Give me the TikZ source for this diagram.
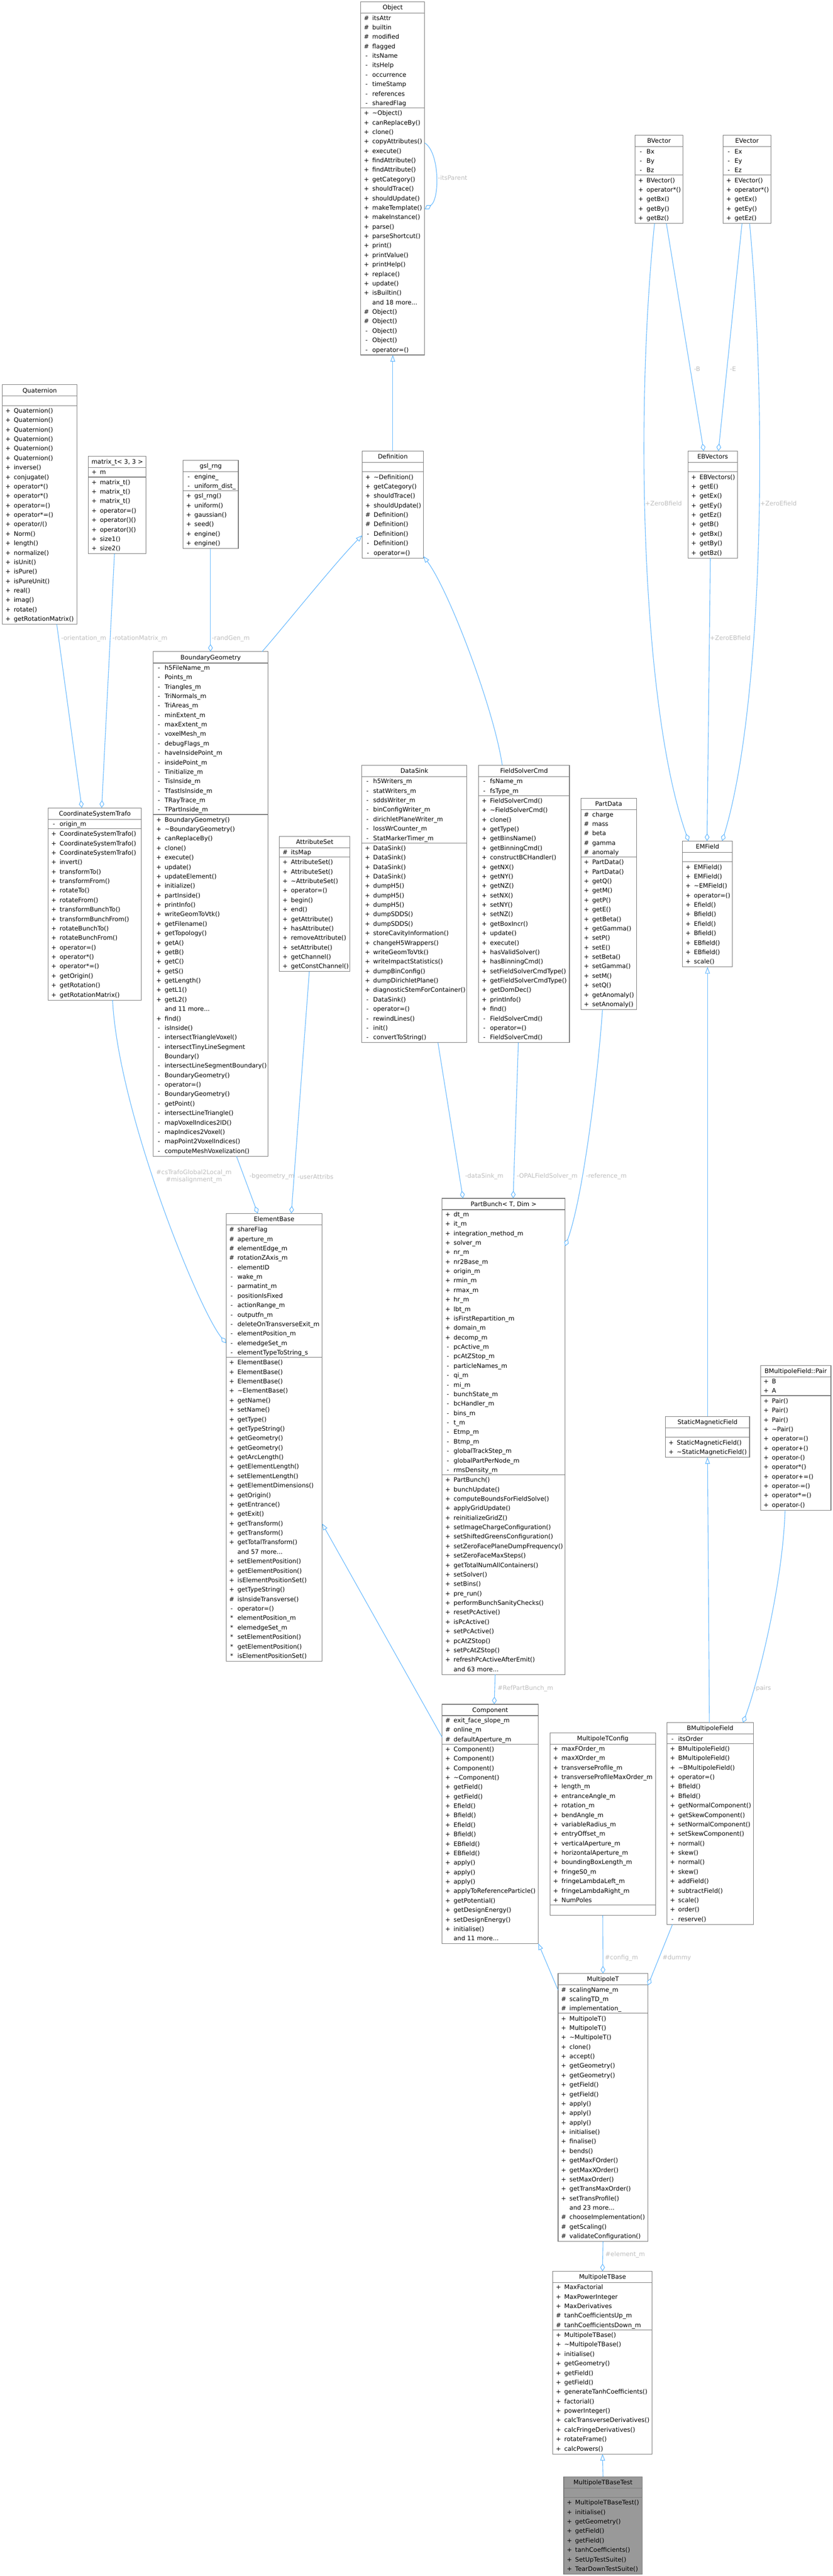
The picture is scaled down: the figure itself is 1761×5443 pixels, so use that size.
\documentclass[tikz,border=0pt]{standalone}
\usepackage{fontspec}
\setmainfont{DejaVu Sans}
\usetikzlibrary{arrows.meta,calc}
\definecolor{edgeblue}{HTML}{63B8FF}
\definecolor{boxgray}{HTML}{7A7A7A}
\definecolor{lblgray}{HTML}{BEBEBE}
\definecolor{mainfill}{HTML}{999999}
\newcommand\clsfont{\fontsize{13}{15}\selectfont}
\newcommand\tdots{...}
\newcount\clsnA
\newcount\clsnM
\tikzset{
  clsnode/.style={draw=boxgray, line width=1.2pt, inner sep=0pt, outer sep=0pt, rectangle},
  clsline/.style={draw=boxgray, line width=1.2pt},
  clssym/.style={anchor=base, inner sep=0pt, font=\clsfont},
  clstxt/.style={anchor=base west, inner sep=0pt, font=\clsfont},
  clstitle/.style={anchor=base, inner sep=0pt, font=\clsfont},
  lbl/.style={text=lblgray, font=\clsfont, inner sep=0pt, align=center},
  inh/.style={draw=edgeblue, line width=1.2pt, -{Triangle[length=14pt,width=10pt,fill=white]}},
  agg/.style={draw=edgeblue, line width=1.2pt, -{Diamond[length=16pt,width=10pt,fill=white]}},
}
\makeatletter
\newcommand\clsbox[8][white]{%
  \def\cls@A{#7}\def\cls@M{#8}%
  \global\clsnA=0 \global\clsnM=0
  \ifx\cls@A\@empty\else\foreach \csym/\ctxt in {#7}{\global\advance\clsnA by 1\relax}\fi
  \ifx\cls@M\@empty\else\foreach \csym/\ctxt in {#8}{\global\advance\clsnM by 1\relax}\fi
  \ifnum\clsnA<1 \global\clsnA=1 \fi
  \ifnum\clsnM<1 \global\clsnM=1 \fi
  \edef\clsRA{\the\clsnA}%
  \pgfmathsetmacro\clsH{26+20*(\the\clsnA+\the\clsnM)}%
  \node[clsnode, fill=#1, minimum width=#5, minimum height=\clsH, anchor=north west] (#2) at (#3,#4) {};
  \draw[clsline] ($(#2.north west)+(0,24)$) -- ($(#2.north east)+(0,24)$);
  \draw[clsline] ($(#2.north west)+(0,{24+20*\clsRA})$) -- ($(#2.north east)+(0,{24+20*\clsRA})$);
  \node[clstitle] at ($(#2.north)+(0,16.5)$) {#6};
  \ifx\cls@A\@empty\else
  \foreach \csym/\ctxt [count=\ci] in {#7}{
    \node[clssym] at ($(#2.north west)+(12,{18.5+20*\ci})$) {\csym};
    \node[clstxt] at ($(#2.north west)+(24,{18.5+20*\ci})$) {\ctxt};
  }\fi
  \ifx\cls@M\@empty\else
  \foreach \csym/\ctxt [count=\ci] in {#8}{
    \node[clssym] at ($(#2.north west)+(12,{19.5+20*\clsRA+20*\ci})$) {\csym};
    \node[clstxt] at ($(#2.north west)+(24,{19.5+20*\clsRA+20*\ci})$) {\ctxt};
  }\fi
}
\makeatother
\begin{document}
\begin{tikzpicture}[x=1pt,y=-1pt]
\useasboundingbox (0,0) rectangle (1761,5443);
\fill[white] (0,0) rectangle (1761,5443);

% ---------- rank 0
\clsbox{Object}{763}{4}{135}{Object}{\#/itsAttr, \#/builtin, \#/modified, \#/flagged, -/itsName, -/itsHelp, -/occurrence, -/timeStamp, -/references, -/sharedFlag}{+/\textasciitilde Object(), +/canReplaceBy(), +/clone(), +/copyAttributes(), +/execute(), +/findAttribute(), +/findAttribute(), +/getCategory(), +/shouldTrace(), +/shouldUpdate(), +/makeTemplate(), +/makeInstance(), +/parse(), +/parseShortcut(), +/print(), +/printValue(), +/printHelp(), +/replace(), +/update(), +/isBuiltin(), /{and 18 more\tdots}, \#/Object(), \#/Object(), -/Object(), -/Object(), -/operator=()}
\clsbox{BVector}{1343}{286}{101}{BVector}{-/Bx, -/By, -/Bz}{+/BVector(), +/operator*(), +/getBx(), +/getBy(), +/getBz()}
\clsbox{EVector}{1529}{286}{101}{EVector}{-/Ex, -/Ey, -/Ez}{+/EVector(), +/operator*(), +/getEx(), +/getEy(), +/getEz()}

% ---------- rank 1
\clsbox{Quaternion}{5}{813}{158}{Quaternion}{}{+/Quaternion(), +/Quaternion(), +/Quaternion(), +/Quaternion(), +/Quaternion(), +/Quaternion(), +/inverse(), +/conjugate(), +/operator*(), +/operator*(), +/operator=(), +/operator*=(), +/{operator/()}, +/Norm(), +/length(), +/normalize(), +/isUnit(), +/isPure(), +/isPureUnit(), +/real(), +/imag(), +/rotate(), +/getRotationMatrix()}
\clsbox{matrix}{187}{964}{122}{matrix\_t< 3, 3 >}{+/m}{+/matrix\_t(), +/matrix\_t(), +/matrix\_t(), +/operator=(), +/operator()(), +/operator()(), +/size1(), +/size2()}
\clsbox{gsl}{387}{973}{117}{gsl\_rng}{-/engine\_, -/uniform\_dist\_}{+/gsl\_rng(), +/uniform(), +/gaussian(), +/seed(), +/engine(), +/engine()}
\clsbox{Definition}{766}{953}{129}{Definition}{}{+/\textasciitilde Definition(), +/getCategory(), +/shouldTrace(), +/shouldUpdate(), \#/Definition(), \#/Definition(), -/Definition(), -/Definition(), -/operator=()}
\clsbox{EBVectors}{1455}{953}{104}{EBVectors}{}{+/EBVectors(), +/getE(), +/getEx(), +/getEy(), +/getEz(), +/getB(), +/getBx(), +/getBy(), +/getBz()}

% ---------- rank 2
\clsbox{CST}{102}{1707}{197}{CoordinateSystemTrafo}{-/origin\_m}{+/CoordinateSystemTrafo(), +/CoordinateSystemTrafo(), +/CoordinateSystemTrafo(), +/invert(), +/transformTo(), +/transformFrom(), +/rotateTo(), +/rotateFrom(), +/transformBunchTo(), +/transformBunchFrom(), +/rotateBunchTo(), +/rotateBunchFrom(), +/operator=(), +/operator*(), +/operator*=(), +/getOrigin(), +/getRotation(), +/getRotationMatrix()}
\clsbox{BG}{324}{1377}{243}{BoundaryGeometry}{-/h5FileName\_m, -/Points\_m, -/Triangles\_m, -/TriNormals\_m, -/TriAreas\_m, -/minExtent\_m, -/maxExtent\_m, -/voxelMesh\_m, -/debugFlags\_m, -/haveInsidePoint\_m, -/insidePoint\_m, -/Tinitialize\_m, -/TisInside\_m, -/TfastIsInside\_m, -/TRayTrace\_m, -/TPartInside\_m}{+/BoundaryGeometry(), +/\textasciitilde BoundaryGeometry(), +/canReplaceBy(), +/clone(), +/execute(), +/update(), +/updateElement(), +/initialize(), +/partInside(), +/printInfo(), +/writeGeomToVtk(), +/getFilename(), +/getTopology(), +/getA(), +/getB(), +/getC(), +/getS(), +/getLength(), +/getL1(), +/getL2(), /{and 11 more\tdots}, +/find(), -/isInside(), -/intersectTriangleVoxel(), -/intersectTinyLineSegment, /Boundary(), -/intersectLineSegmentBoundary(), -/BoundaryGeometry(), -/operator=(), -/BoundaryGeometry(), -/getPoint(), -/intersectLineTriangle(), -/mapVoxelIndices2ID(), -/mapIndices2Voxel(), -/mapPoint2VoxelIndices(), -/computeMeshVoxelization()}
\clsbox{AttributeSet}{591}{1767}{149}{AttributeSet}{\#/itsMap}{+/AttributeSet(), +/AttributeSet(), +/\textasciitilde AttributeSet(), +/operator=(), +/begin(), +/end(), +/getAttribute(), +/hasAttribute(), +/removeAttribute(), +/setAttribute(), +/getChannel(), +/getConstChannel()}
\clsbox{DataSink}{765}{1617}{222}{DataSink}{-/h5Writers\_m, -/statWriters\_m, -/sddsWriter\_m, -/binConfigWriter\_m, -/dirichletPlaneWriter\_m, -/lossWrCounter\_m, -/StatMarkerTimer\_m}{+/DataSink(), +/DataSink(), +/DataSink(), +/DataSink(), +/dumpH5(), +/dumpH5(), +/dumpH5(), +/dumpSDDS(), +/dumpSDDS(), +/storeCavityInformation(), +/changeH5Wrappers(), +/writeGeomToVtk(), +/writeImpactStatistics(), +/dumpBinConfig(), +/dumpDirichletPlane(), +/diagnosticStemForContainer(), -/DataSink(), -/operator=(), -/rewindLines(), -/init(), -/convertToString()}
\clsbox{FSC}{1012}{1617}{192}{FieldSolverCmd}{-/fsName\_m, -/fsType\_m}{+/FieldSolverCmd(), +/\textasciitilde FieldSolverCmd(), +/clone(), +/getType(), +/getBinsName(), +/getBinningCmd(), +/constructBCHandler(), +/getNX(), +/getNY(), +/getNZ(), +/setNX(), +/setNY(), +/setNZ(), +/getBoxIncr(), +/update(), +/execute(), +/hasValidSolver(), +/hasBinningCmd(), +/setFieldSolverCmdType(), +/getFieldSolverCmdType(), +/getDomDec(), +/printInfo(), +/find(), -/FieldSolverCmd(), -/operator=(), -/FieldSolverCmd()}
\clsbox{PartData}{1228}{1687}{118}{PartData}{\#/charge, \#/mass, \#/beta, \#/gamma, \#/anomaly}{+/PartData(), +/PartData(), +/getQ(), +/getM(), +/getP(), +/getE(), +/getBeta(), +/getGamma(), +/setP(), +/setE(), +/setBeta(), +/setGamma(), +/setM(), +/setQ(), +/getAnomaly(), +/setAnomaly()}
\clsbox{EMField}{1443}{1777}{106}{EMField}{}{+/EMField(), +/EMField(), +/\textasciitilde EMField(), +/operator=(), +/Efield(), +/Bfield(), +/Efield(), +/Bfield(), +/EBfield(), +/EBfield(), +/scale()}

% ---------- rank 3
\clsbox{ElementBase}{478}{2564}{203}{ElementBase}{\#/shareFlag, \#/aperture\_m, \#/elementEdge\_m, \#/rotationZAxis\_m, -/elementID, -/wake\_m, -/parmatint\_m, -/positionIsFixed, -/actionRange\_m, -/outputfn\_m, -/deleteOnTransverseExit\_m, -/elementPosition\_m, -/elemedgeSet\_m, -/elementTypeToString\_s}{+/ElementBase(), +/ElementBase(), +/ElementBase(), +/\textasciitilde ElementBase(), +/getName(), +/setName(), +/getType(), +/getTypeString(), +/getGeometry(), +/getGeometry(), +/getArcLength(), +/getElementLength(), +/setElementLength(), +/getElementDimensions(), +/getOrigin(), +/getEntrance(), +/getExit(), +/getTransform(), +/getTransform(), +/getTotalTransform(), /{and 57 more\tdots}, +/setElementPosition(), +/getElementPosition(), +/isElementPositionSet(), +/getTypeString(), \#/isInsideTransverse(), -/operator=(), */elementPosition\_m, */elemedgeSet\_m, */setElementPosition(), */getElementPosition(), */isElementPositionSet()}
\clsbox{PartBunch}{935}{2532}{260}{PartBunch< T, Dim >}{+/dt\_m, +/it\_m, +/integration\_method\_m, +/solver\_m, +/nr\_m, +/nr2Base\_m, +/origin\_m, +/rmin\_m, +/rmax\_m, +/hr\_m, +/lbt\_m, +/isFirstRepartition\_m, +/domain\_m, +/decomp\_m, -/pcActive\_m, -/pcAtZStop\_m, -/particleNames\_m, -/qi\_m, -/mi\_m, -/bunchState\_m, -/bcHandler\_m, -/bins\_m, -/t\_m, -/Etmp\_m, -/Btmp\_m, -/globalTrackStep\_m, -/globalPartPerNode\_m, -/rmsDensity\_m}{+/PartBunch(), +/bunchUpdate(), +/computeBoundsForFieldSolve(), +/applyGridUpdate(), +/reinitializeGridZ(), +/setImageChargeConfiguration(), +/setShiftedGreensConfiguration(), +/setZeroFacePlaneDumpFrequency(), +/setZeroFaceMaxSteps(), +/getTotalNumAllContainers(), +/setSolver(), +/setBins(), +/pre\_run(), +/performBunchSanityChecks(), +/resetPcActive(), +/isPcActive(), +/setPcActive(), +/pcAtZStop(), +/setPcAtZStop(), +/refreshPcActiveAfterEmit(), /{and 63 more\tdots}}
\clsbox{SMF}{1407}{2993}{178}{StaticMagneticField}{}{+/StaticMagneticField(), +/\textasciitilde StaticMagneticField()}
\clsbox{Pair}{1608}{2885}{149}{BMultipoleField::Pair}{+/B, +/A}{+/Pair(), +/Pair(), +/Pair(), +/\textasciitilde Pair(), +/operator=(), +/operator+(), +/operator-(), +/operator*(), +/operator+=(), +/operator-=(), +/operator*=(), +/operator-()}

% ---------- rank 4
\clsbox{Component}{935}{3601}{203}{Component}{\#/exit\_face\_slope\_m, \#/online\_m, \#/defaultAperture\_m}{+/Component(), +/Component(), +/Component(), +/\textasciitilde Component(), +/getField(), +/getField(), +/Efield(), +/Bfield(), +/Efield(), +/Bfield(), +/EBfield(), +/EBfield(), +/apply(), +/apply(), +/apply(), +/applyToReferenceParticle(), +/getPotential(), +/getDesignEnergy(), +/setDesignEnergy(), +/initialise(), /{and 11 more\tdots}}
\clsbox{MTC}{1163}{3661}{223}{MultipoleTConfig}{+/maxFOrder\_m, +/maxXOrder\_m, +/transverseProfile\_m, +/transverseProfileMaxOrder\_m, +/length\_m, +/entranceAngle\_m, +/rotation\_m, +/bendAngle\_m, +/variableRadius\_m, +/entryOffset\_m, +/verticalAperture\_m, +/horizontalAperture\_m, +/boundingBoxLength\_m, +/fringeS0\_m, +/fringeLambdaLeft\_m, +/fringeLambdaRight\_m, +/NumPoles}{}
\clsbox{BMF}{1410}{3640}{183}{BMultipoleField}{-/itsOrder}{+/BMultipoleField(), +/BMultipoleField(), +/\textasciitilde BMultipoleField(), +/operator=(), +/Bfield(), +/Bfield(), +/getNormalComponent(), +/getSkewComponent(), +/setNormalComponent(), +/setSkewComponent(), +/normal(), +/skew(), +/normal(), +/skew(), +/addField(), +/subtractField(), +/scale(), +/order(), -/reserve()}

% ---------- rank 5-7
\clsbox{MT}{1180}{4170}{190}{MultipoleT}{\#/scalingName\_m, \#/scalingTD\_m, \#/implementation\_}{+/MultipoleT(), +/MultipoleT(), +/\textasciitilde MultipoleT(), +/clone(), +/accept(), +/getGeometry(), +/getGeometry(), +/getField(), +/getField(), +/apply(), +/apply(), +/apply(), +/initialise(), +/finalise(), +/bends(), +/getMaxFOrder(), +/getMaxXOrder(), +/setMaxOrder(), +/getTransMaxOrder(), +/setTransProfile(), /{and 23 more\tdots}, \#/chooseImplementation(), \#/getScaling(), \#/validateConfiguration()}
\clsbox{MTB}{1169}{4799}{210}{MultipoleTBase}{+/MaxFactorial, +/MaxPowerInteger, +/MaxDerivatives, \#/tanhCoefficientsUp\_m, \#/tanhCoefficientsDown\_m}{+/MultipoleTBase(), +/\textasciitilde MultipoleTBase(), +/initialise(), +/getGeometry(), +/getField(), +/getField(), +/generateTanhCoefficients(), +/factorial(), +/powerInteger(), +/calcTransverseDerivatives(), +/calcFringeDerivatives(), +/rotateFrame(), +/calcPowers()}
\clsbox[mainfill]{Test}{1192}{5233}{166}{MultipoleTBaseTest}{}{+/MultipoleTBaseTest(), +/initialise(), +/getGeometry(), +/getField(), +/getField(), +/tanhCoefficients(), +/SetUpTestSuite(), +/TearDownTestSuite()}

% ---------- connectors
\draw[inh] (Definition.north) -- (Object.south);
\draw[agg] ($(Object.north west)+(135,298)$) .. controls +(32,20) and +(32,-20) .. ($(Object.north west)+(135,438)$);
\node[lbl] (litsParent) at (957,376) {-itsParent};
\draw[inh] ($(BG.north west)+(230,0)$) .. controls +(40,-45) and +(-55,55) .. ($(Definition.north west)+(0,178)$);
\draw[inh] ($(FSC.north west)+(50,0)$) .. controls +(-17,-117) and +(55,73) .. ($(Definition.north west)+(129,222)$);
\draw[agg] ($(Quaternion.north west)+(115,506)$) -- ($(CST.north west)+(71,0)$);
\node[lbl] (lorient) at (177,1349) {-orientation\_m};
\draw[agg] ($(matrix.north west)+(55,206)$) -- ($(CST.north west)+(113,0)$);
\node[lbl] (lrotm) at (296,1349) {-rotationMatrix\_m};
\draw[agg] ($(gsl.north west)+(58,186)$) -- ($(BG.north west)+(121,0)$);
\node[lbl] (lrand) at (488,1349) {-randGen\_m};
\draw[agg] ($(CST.north west)+(136,406)$) .. controls +(12,237) and +(-58,-70) .. ($(ElementBase.north west)+(0,274)$);
\node[lbl] (lcstrafo) at (410,2486) {\#csTrafoGlobal2Local\_m\\\#misalignment\_m};
\draw[agg] ($(BG.north west)+(176,1066)$) -- ($(ElementBase.north west)+(67,0)$);
\node[lbl] (lbgeom) at (575,2486) {-bgeometry\_m};
\draw[agg] ($(AttributeSet.north west)+(63,286)$) -- ($(ElementBase.north west)+(138,0)$);
\node[lbl] (luser) at (667,2486) {-userAttribs};
\draw[agg] ($(DataSink.north west)+(161,586)$) -- ($(PartBunch.north west)+(44,0)$);
\node[lbl] (ldatasink) at (1024,2486) {-dataSink\_m};
\draw[agg] ($(FSC.north west)+(84,586)$) -- ($(PartBunch.north west)+(150,0)$);
\node[lbl] (lopal) at (1157,2486) {-OPALFieldSolver\_m};
\draw[agg] ($(PartData.north west)+(46,446)$) .. controls +(-12,167) and +(35,-93) .. ($(PartBunch.north west)+(260,101)$);
\node[lbl] (lref) at (1282,2486) {-reference\_m};
\draw[agg] ($(BVector.north west)+(66,186)$) -- ($(EBVectors.north west)+(33,0)$);
\node[lbl] (lbfield) at (1474,780) {-B};
\draw[agg] ($(EVector.north west)+(40,186)$) -- ($(EBVectors.north west)+(64,0)$);
\node[lbl] (lefield) at (1550,780) {-E};
\draw[agg] ($(BVector.north west)+(41,186)$) .. controls +(-44,430) and +(-96,-270) .. ($(EMField.north west)+(13,0)$);
\node[lbl] (lzb) at (1403,1064) {+ZeroBfield};
\draw[agg] ($(EVector.north west)+(56,186)$) .. controls +(40,430) and +(83,-270) .. ($(EMField.north west)+(84,0)$);
\node[lbl] (lze) at (1646,1064) {+ZeroEfield};
\draw[agg] ($(EBVectors.north west)+(47,226)$) -- ($(EMField.north west)+(52,0)$);
\node[lbl] (lzeb) at (1544,1348) {+ZeroEBfield};
\draw[inh] (SMF.north) -- (EMField.south);
\draw[inh] ($(BMF.north west)+(90,0)$) -- (SMF.south);
\draw[agg] ($(Pair.north west)+(52,306)$) .. controls +(-5,160) and +(30,-80) .. ($(BMF.north west)+(161,0)$);
\node[lbl] (lpairs) at (1612,3568) {-pairs};
\draw[inh] ($(Component.north west)+(0,70)$) -- ($(ElementBase.north west)+(203,655)$);
\draw[agg] ($(PartBunch.north west)+(112,1006)$) -- ($(Component.north west)+(110,0)$);
\node[lbl] (lrefpb) at (1111,3568) {\#RefPartBunch\_m};
\draw[inh] ($(MT.north west)+(0,35)$) -- ($(Component.north west)+(203,505)$);
\draw[agg] (MTC.south) -- (MT.north);
\node[lbl] (lconfig) at (1314,4137) {\#config\_m};
\draw[agg] ($(BMF.north west)+(12,426)$) -- ($(MT.north west)+(190,25)$);
\node[lbl] (ldummy) at (1431,4137) {\#dummy};
\draw[agg] (MT.south) -- (MTB.north);
\node[lbl] (lelement) at (1322,4764) {\#element\_m};
\draw[inh] (Test.north) -- (MTB.south);
\end{tikzpicture}
\end{document}
